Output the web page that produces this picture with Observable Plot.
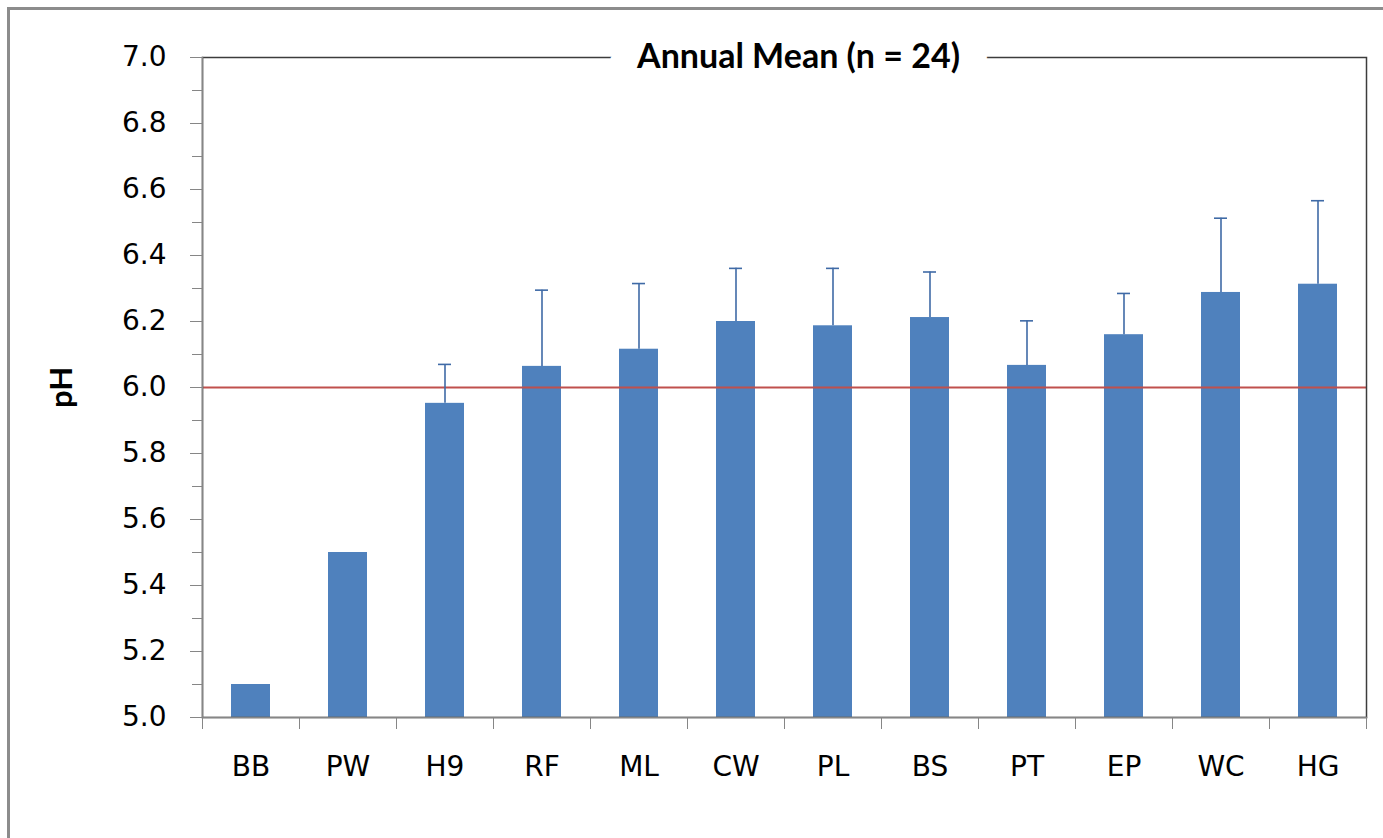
<!DOCTYPE html>
<html>
<head>
<meta charset="utf-8">
<script src="https://cdn.jsdelivr.net/npm/d3@7"></script>
<script src="https://cdn.jsdelivr.net/npm/@observablehq/plot@0.6"></script>
<style>
  html, body { margin: 0; padding: 0; background: white; overflow: hidden; }
  #wrap { position: relative; width: 1383px; height: 838px; overflow: hidden; background: white; }
  #chart { position: absolute; left: 0; top: 0; }
  #border { position: absolute; left: 7px; top: 7px; width: 3000px; height: 3000px;
            border-left: 3px solid #8c8c8c; border-top: 3px solid #8c8c8c; pointer-events: none; }
</style>
</head>
<body>
<div id="wrap">
  <div id="chart"></div>
  <div id="border"></div>
</div>
<script>
// ---- data ----
const sites = ["BB", "PW", "H9", "RF", "ML", "CW", "PL", "BS", "PT", "EP", "WC", "HG"];
const means = [5.10, 5.50, 5.952, 6.064, 6.116, 6.200, 6.187, 6.212, 6.067, 6.160, 6.288, 6.313];
const errors = [null, null, 0.118, 0.231, 0.199, 0.161, 0.174, 0.138, 0.135, 0.125, 0.225, 0.253];
const threshold = [6.0];
const yMajorTicks = [5.0, 5.2, 5.4, 5.6, 5.8, 6.0, 6.2, 6.4, 6.6, 6.8, 7.0];
const yMinorTicks = [5.1, 5.3, 5.5, 5.7, 5.9, 6.1, 6.3, 6.5, 6.7, 6.9];
const yDomain = [5.0, 7.0];
const titleText = "Annual Mean (n = 24)";
const yLabel = "pH";

const data = sites.map((s, i) => ({site: s, mean: means[i], err: errors[i]}));
const errData = data.filter(d => d.err != null).map(d => ({...d, top: d.mean + d.err}));

// ---- layout ----
const W = 1383, H = 838;
const mL = 202, mR = 17, mT = 57, mB = 121;
const step = (W - mL - mR) / sites.length;
const gray = "#868686";
const dark = "#3c3c3c";
const barColor = "#4f81bd";
const errColor = "#3f6aa6";

const chart = Plot.plot({
  width: W,
  height: H,
  marginLeft: mL,
  marginRight: mR,
  marginTop: mT,
  marginBottom: mB,
  style: {fontFamily: "DejaVu Sans", fontSize: "28px", color: "black", background: "transparent"},
  x: {domain: sites, paddingInner: 0.6, paddingOuter: 0.3, label: null},
  y: {domain: yDomain, label: null},
  marks: [
    Plot.barY(data, {x: "site", y1: yDomain[0], y2: "mean", fill: barColor}),
    Plot.ruleY(threshold, {stroke: "#c0504d", strokeWidth: 2.2}),
    Plot.ruleX(errData, {x: "site", y1: "mean", y2: "top", stroke: errColor, strokeWidth: 1.6}),
    Plot.tickY(errData, {x: "site", y: "top", stroke: errColor, strokeWidth: 1.6, inset: 13}),
    // frame: top/right dark, left/bottom gray (axis lines)
    Plot.frame({stroke: dark, strokeWidth: 1.5}),
    Plot.frame({anchor: "left", stroke: gray, strokeWidth: 1.5}),
    Plot.frame({anchor: "bottom", stroke: gray, strokeWidth: 1.5}),
    // y axis
    Plot.axisY({ticks: yMajorTicks, tickSize: 12, tickPadding: 24, tickFormat: d3.format(".1f"),
                stroke: gray, fill: "black", fontSize: 28, label: null}),
    Plot.axisY({ticks: yMinorTicks, tickSize: 10, tickFormat: () => "", stroke: gray, label: null}),
    // x axis ticks at band edges
    Plot.axisX({tickSize: 12, tickFormat: () => "", dx: -step / 2, stroke: gray, label: null}),
    Plot.axisX({ticks: [sites[sites.length - 1]], tickSize: 12, tickFormat: () => "", dx: step / 2, stroke: gray, label: null}),
    Plot.axisX({tickSize: 0, tickPadding: 39, fontSize: 28, fill: "black", label: null}),
    // y label
    Plot.text([yLabel], {frameAnchor: "left", dx: -140, rotate: -90, textAnchor: "middle", fontFamily: "Lato",
                         fontWeight: "bold", fontSize: 31, lineAnchor: "middle", fill: "black"}),
    // title over the top border
    Plot.text([titleText], {frameAnchor: "top", dx: 14, textAnchor: "middle", fontFamily: "Lato", fontWeight: "bold",
                            fontSize: 34, lineAnchor: "middle", fill: "black", stroke: "white", strokeWidth: 56,
                            paintOrder: "stroke"})
  ]
});
document.getElementById("chart").appendChild(chart);
</script>
</body>
</html>
